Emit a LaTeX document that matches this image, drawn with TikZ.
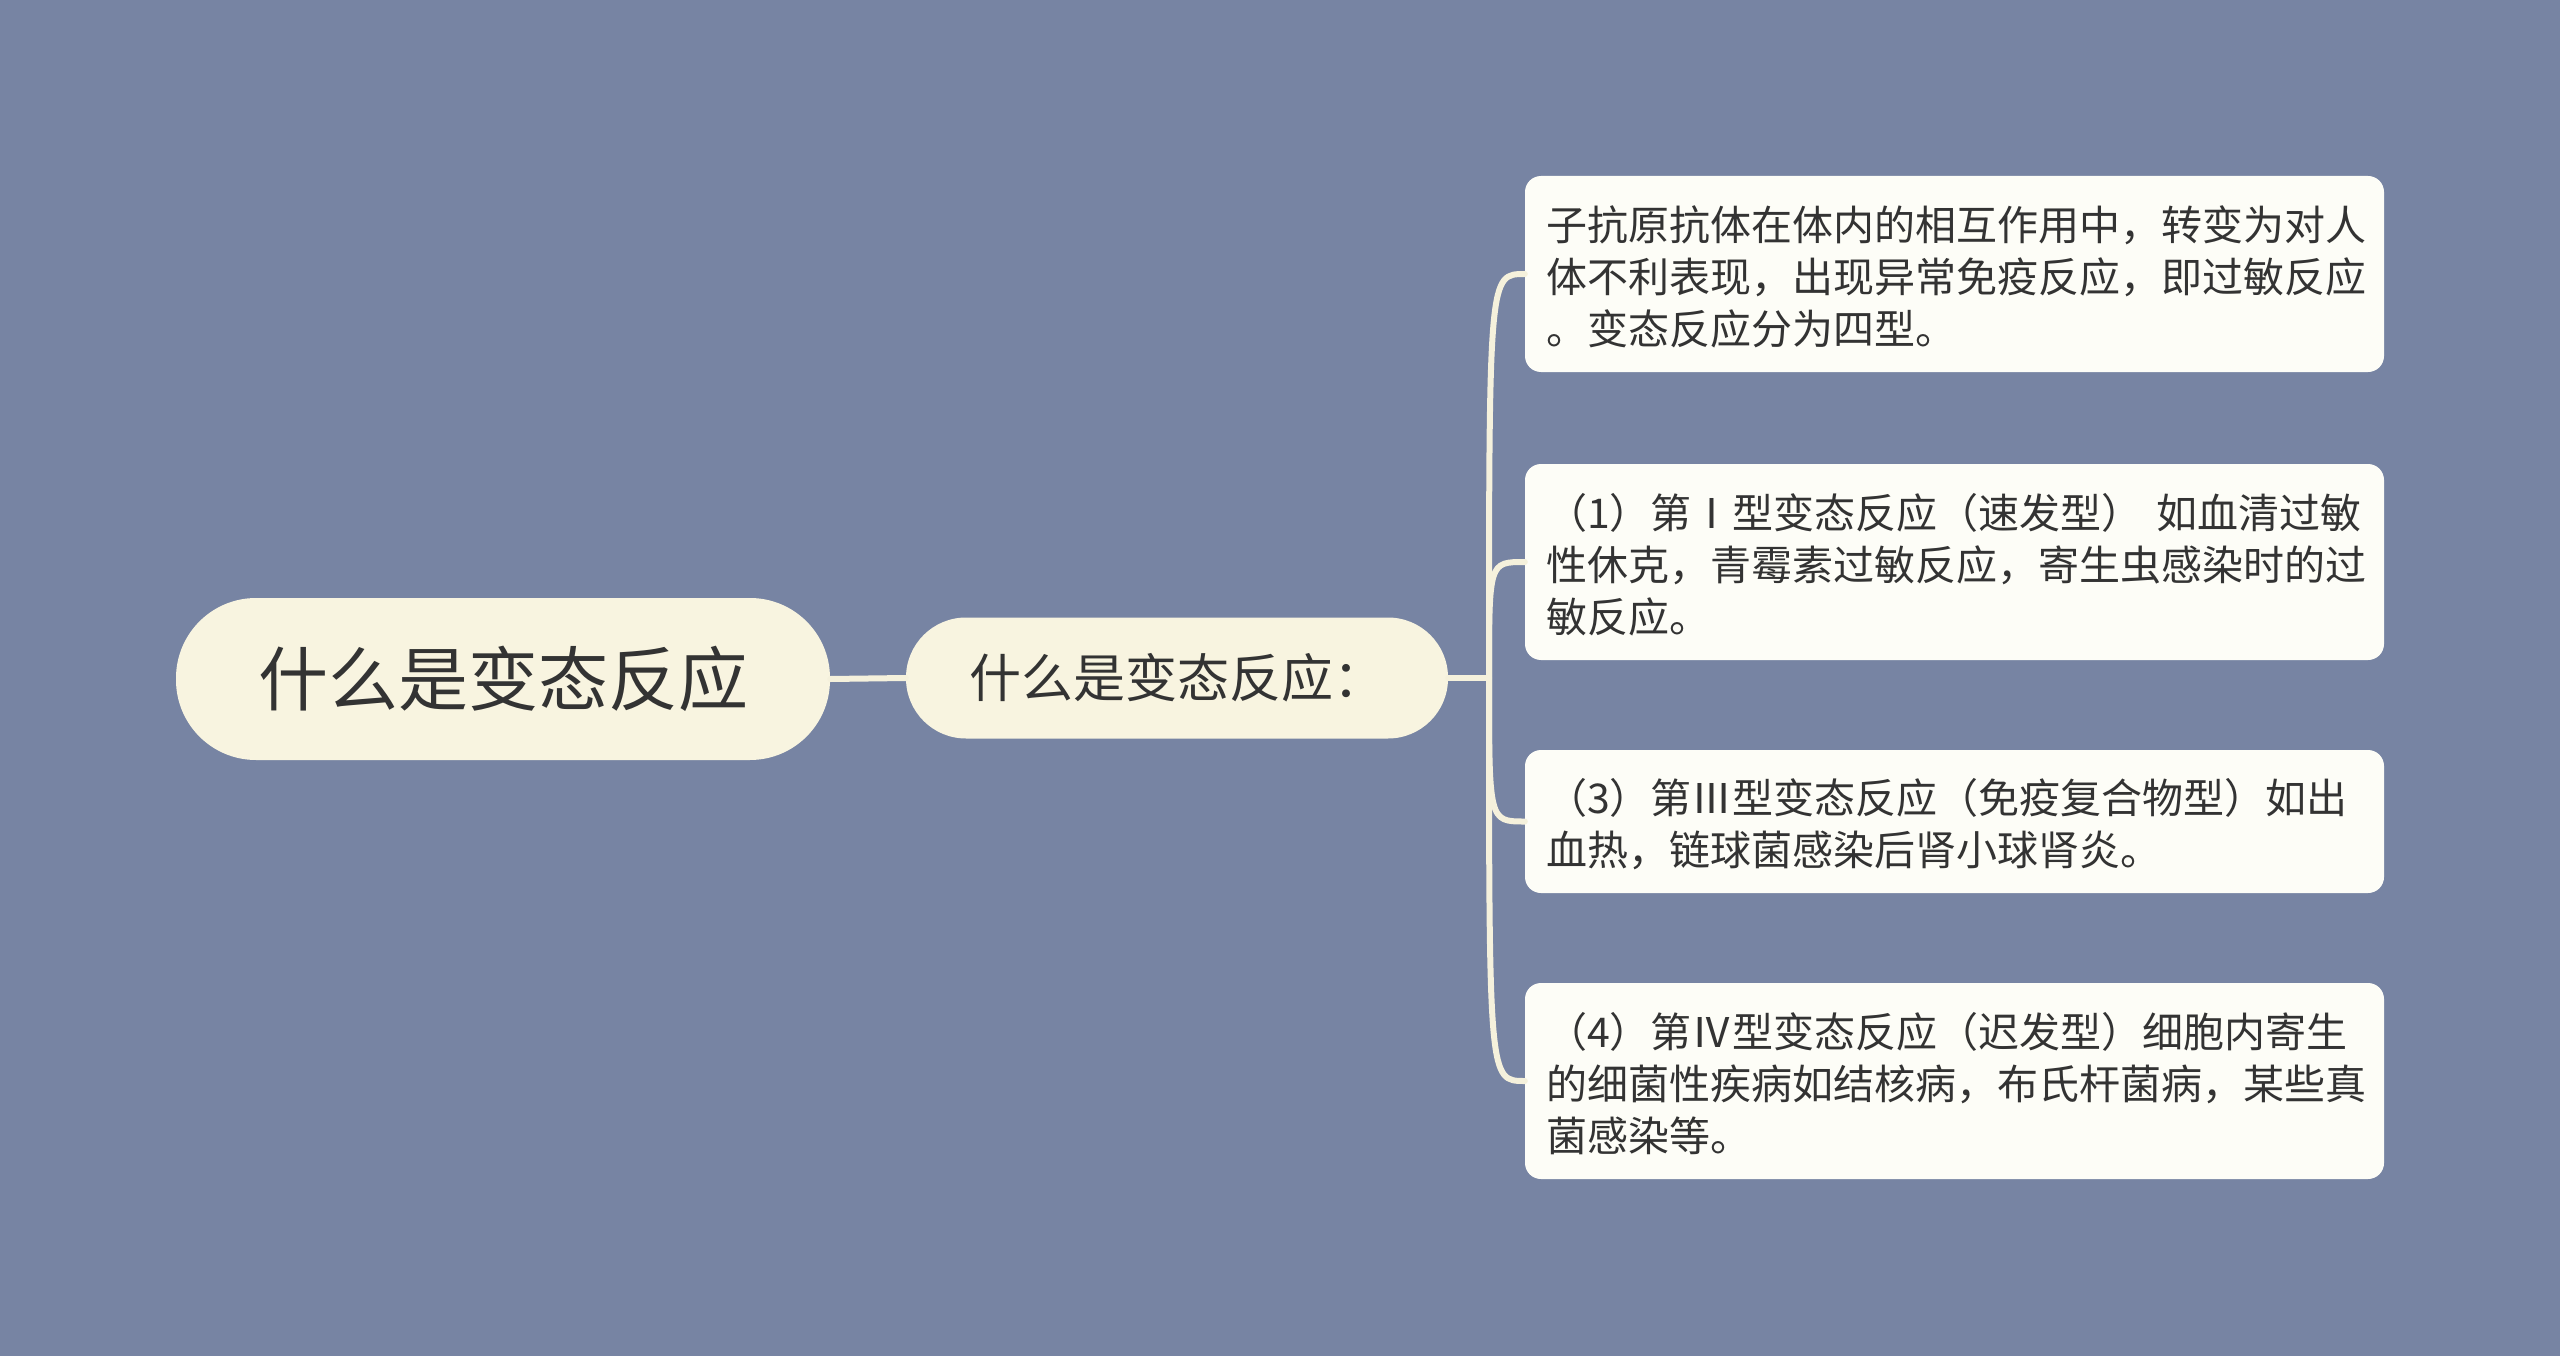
\documentclass[tikz,border=0pt]{standalone}
\usepackage{fontspec}
\newfontfamily\cjk{Noto Sans CJK SC}
\definecolor{bg}{HTML}{7784A3}
\definecolor{rootfill}{HTML}{F8F4E0}
\definecolor{leaffill}{HTML}{FDFDF7}
\definecolor{linec}{HTML}{F5F1DC}
\definecolor{txt}{HTML}{333333}
\begin{document}
\begin{tikzpicture}[x=1pt,y=-1pt,
  rootbox/.style={fill=rootfill, rounded corners=80pt, minimum width=654pt, minimum height=162pt, inner sep=0pt, text=txt, font=\cjk\fontsize{70}{84}\selectfont},
  subbox/.style={fill=rootfill, rounded corners=60pt, minimum width=542pt, minimum height=121pt, inner sep=0pt, text=txt, font=\cjk\fontsize{52}{62}\selectfont},
  leafbox/.style={fill=leaffill, rounded corners=16pt, minimum width=859pt, inner sep=0pt},
  leaftext/.style={text width=817pt, inner sep=0pt, align=left, text=txt, font=\cjk\fontsize{41}{52}\selectfont},
  conn/.style={draw=linec, line width=6pt, line cap=round}
]
\fill[bg] (0,0) rectangle (2560,1356);
\useasboundingbox (0,0) rectangle (2560,1356);

\node[rootbox] (root) at (503,679) {什么是变态反应};
\node[subbox] (sub) at (1177,678) {什么是变态反应：};
\coordinate (br) at (1489,678);

\node[leafbox, minimum height=196pt] (l1) at (1954.5,274) {};
\node[leaftext] (l1t) at ([yshift=-3pt]l1.center) {子抗原抗体在体内的相互作用中，转变为对人\\体不利表现，出现异常免疫反应，即过敏反应\\。变态反应分为四型。};
\node[leafbox, minimum height=196pt] (l2) at (1954.5,562) {};
\node[leaftext] (l2t) at ([yshift=-3pt]l2.center) {（1）第Ⅰ型变态反应（速发型）~如血清过敏\\性休克，青霉素过敏反应，寄生虫感染时的过\\敏反应。};
\node[leafbox, minimum height=143pt] (l3) at (1954.5,821.5) {};
\node[leaftext] (l3t) at ([yshift=-3pt]l3.center) {（3）第Ⅲ型变态反应（免疫复合物型）如出\\血热，链球菌感染后肾小球肾炎。};
\node[leafbox, minimum height=196pt] (l4) at (1954.5,1081) {};
\node[leaftext] (l4t) at ([yshift=-3pt]l4.center) {（4）第Ⅳ型变态反应（迟发型）细胞内寄生\\的细菌性疾病如结核病，布氏杆菌病，某些真\\菌感染等。};

\draw[conn] (root.east) -- (sub.west);
\draw[conn] (sub.east) -- (br);
\foreach \n in {l1,l2,l3,l4}
  \draw[conn] (br) .. controls (br |- \n.west) .. (\n.west);
\end{tikzpicture}
\end{document}
